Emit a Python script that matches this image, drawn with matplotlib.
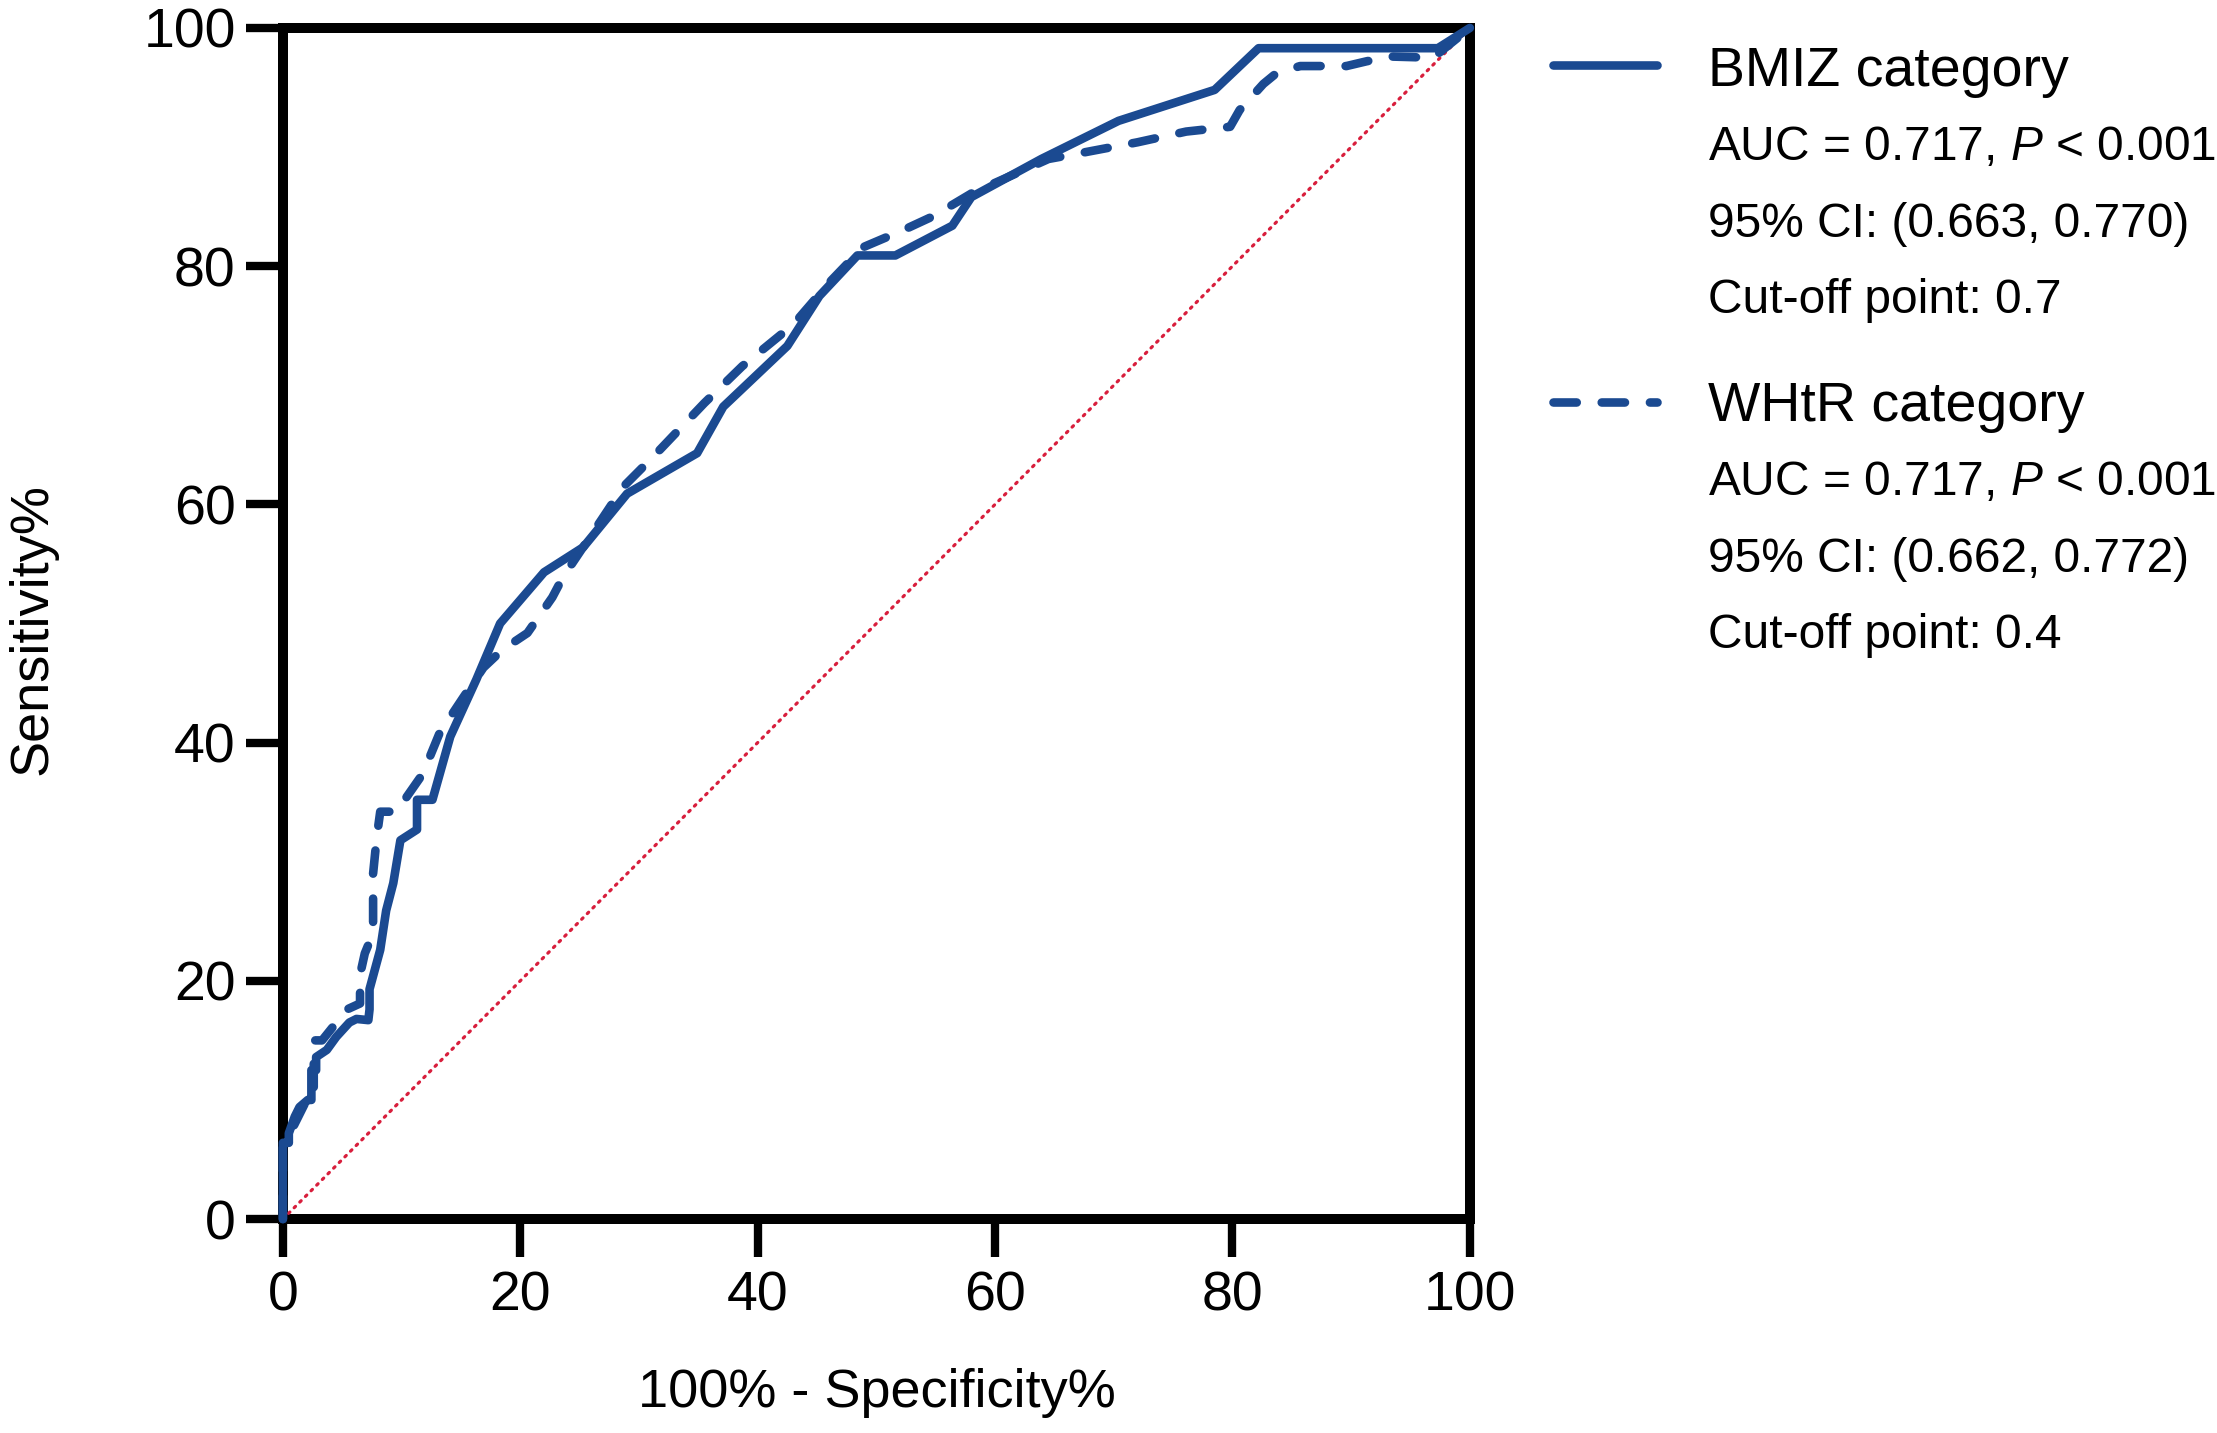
import matplotlib
matplotlib.use('Agg')
import matplotlib.pyplot as plt
from matplotlib.lines import Line2D

plt.rcParams['font.family'] = ['Liberation Sans', 'DejaVu Sans']
plt.rcParams['mathtext.fontset'] = 'custom'
plt.rcParams['mathtext.rm'] = 'Liberation Sans'
plt.rcParams['mathtext.it'] = 'Liberation Sans:italic'

# ROC curve points (100% - specificity, sensitivity)
bmiz_x = [0, 0, 0.5, 0.5, 1, 1.4, 2.1, 2.4, 2.4, 2.8, 2.8, 3.7, 4.5, 5.6, 6.2, 7.2, 7.3, 7.3,
          8.2, 8.7, 9.3, 9.9, 11.3, 11.3, 12.6, 14.1, 16.3, 18.3, 22, 25.3, 29, 34.9, 37.1,
          42.5, 45.2, 48.4, 51.6, 56.4, 58, 63.9, 70.4, 78.5, 82.2, 97.3, 100]
bmiz_y = [0, 6.4, 6.4, 7.2, 8.6, 9.4, 10, 10, 12.5, 12.5, 13.6, 14.2, 15.3, 16.5, 16.8, 16.7, 17.6, 19.3,
          22.6, 25.9, 28.2, 31.8, 32.7, 35.2, 35.2, 40.5, 45.3, 50, 54.3, 56.4, 60.9, 64.3, 68.2,
          73.3, 77.5, 80.9, 80.9, 83.4, 85.8, 89, 92.2, 94.8, 98.3, 98.3, 100]

whtr_x = [0, 0, 1, 2, 2.6, 2.6, 3.3, 5.4, 6.5, 6.5, 6.9, 7.6, 7.6, 7.9, 8.2, 9.6, 10.4, 11.8,
          13.2, 15.2, 16.9, 18.5, 20.6, 22.7, 23.6, 26.9, 28.7, 31.2, 35.5, 38.7, 43, 46.2,
          48.9, 52.2, 54.8, 58, 64.5, 66.7, 72, 76.1, 79.8, 80.6, 82.6, 83.7, 85.7, 89.6,
          91.3, 93.3, 96.9, 100]
whtr_y = [0, 6, 8, 10, 10, 15, 15, 17.6, 18.1, 20.5, 22.3, 24, 29, 32, 34.2, 34.2, 35.4, 37.4,
          40.8, 43.8, 46.3, 47.8, 49.2, 52.2, 53.9, 58.8, 61.5, 64, 68.5, 71.6, 75.1, 78.8,
          81.6, 83, 84.2, 86.1, 89, 89.4, 90.4, 91.3, 91.7, 93.1, 95.3, 96.2, 96.8, 96.8,
          97.2, 97.6, 97.5, 100]

ref_x = [0, 100]
ref_y = [0, 100]

ticks = [0, 20, 40, 60, 80, 100]

legend_blocks = [
    ('BMIZ category', ['AUC = 0.717, $\\it{P}$ < 0.001', '95% CI: (0.663, 0.770)', 'Cut-off point: 0.7']),
    ('WHtR category', ['AUC = 0.717, $\\it{P}$ < 0.001', '95% CI: (0.662, 0.772)', 'Cut-off point: 0.4']),
]

BLUE = '#1B4A91'
RED = '#D81E3C'
LW = 6.2
DASH = (0, (2.7, 2.9))

fig = plt.figure(figsize=(22.17, 14.33), dpi=100)
ax = fig.add_axes([0.1276, 0.1493, 0.5354, 0.8312])

ax.plot(ref_x, ref_y, color=RED, lw=2.3, linestyle=(0, (0.6, 1.9)),
        dash_capstyle='round', clip_on=False, zorder=2)
ax.plot(whtr_x, whtr_y, color=BLUE, lw=LW, linestyle=DASH,
        dash_capstyle='round', dash_joinstyle='round', clip_on=False, zorder=3)
ax.plot(bmiz_x, bmiz_y, color=BLUE, lw=LW, solid_capstyle='round',
        solid_joinstyle='round', clip_on=False, zorder=4)

ax.set_xlim(0, 100)
ax.set_ylim(0, 100)
ax.set_xticks(ticks)
ax.set_yticks(ticks)
for s in ax.spines.values():
    s.set_linewidth(7.2)
    s.set_color('black')
    s.set_zorder(1)
ax.tick_params(axis='both', direction='out', length=27, width=6.0, colors='black',
               labelsize=40)
ax.tick_params(axis='x', pad=10)
ax.tick_params(axis='y', pad=7)

ax.set_xlabel('100% - Specificity%', fontsize=39)
ax.set_ylabel('Sensitivity%', fontsize=39)
ax.xaxis.set_label_coords(0.5, -0.125)
ax.yaxis.set_label_coords(-0.19, 0.495)

# legend drawn by hand to keep the stacked statistics lines
text_x = 0.7704
line_x = [0.7005, 0.7474]
head_y = [0.9400, 0.7062]
sample_y = [0.9546, 0.7195]
styles = ['-', DASH]
step = 0.0535
for (title, lines), hy, sy, ls in zip(legend_blocks, head_y, sample_y, styles):
    fig.add_artist(Line2D(line_x, [sy, sy], transform=fig.transFigure, color=BLUE,
                          lw=LW, linestyle=ls, solid_capstyle='round',
                          dash_capstyle='round'))
    fig.text(text_x, hy, title, fontsize=40, va='baseline', ha='left')
    for i, t in enumerate(lines):
        fig.text(text_x, hy - 0.0517 - i * step, t, fontsize=34.5, va='baseline', ha='left')

fig.savefig('out.png', dpi=100)
